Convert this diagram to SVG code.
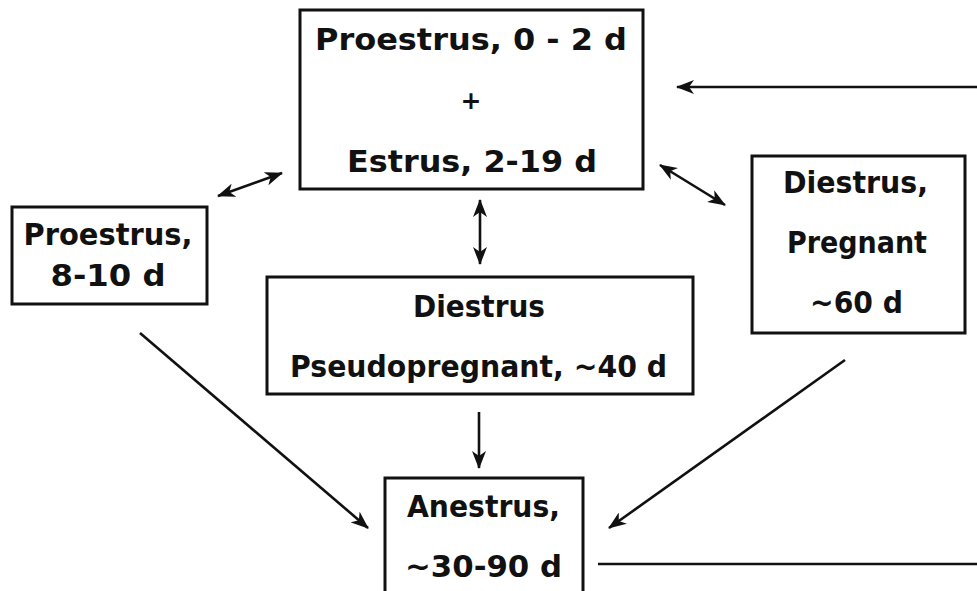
<svg xmlns="http://www.w3.org/2000/svg" width="977" height="591" viewBox="0 0 977 591">
<style>
.box{fill:#fff;stroke:#111;stroke-width:3}
.t{font-family:"DejaVu Sans","Liberation Sans",sans-serif;font-weight:bold;font-size:30px;fill:#111;text-anchor:middle}
.c{stroke:#111;stroke-width:2.6;fill:none}
.a{marker-end:url(#ah)}
.d{marker-end:url(#ah);marker-start:url(#ah)}
</style>
<defs>
<marker id="ah" markerUnits="userSpaceOnUse" viewBox="0 0 18 14" refX="17" refY="7" markerWidth="18" markerHeight="14" orient="auto-start-reverse">
<path d="M0,0 L18,7 L0,14 L5,7 Z" fill="#111"/>
</marker>
</defs>
<rect width="977" height="591" fill="#fff"/>
<g id="connectors">
<line class="c a" x1="977" y1="87" x2="677" y2="87"/>
<line class="c d" x1="218" y1="196" x2="282" y2="173"/>
<line class="c d" x1="480" y1="200" x2="480" y2="264"/>
<line class="c d" x1="660" y1="165" x2="725" y2="205"/>
<line class="c a" x1="140" y1="333" x2="368" y2="528"/>
<line class="c a" x1="479" y1="412" x2="479" y2="468"/>
<line class="c a" x1="845" y1="360" x2="609" y2="528"/>
<line class="c" x1="598" y1="564" x2="977" y2="564"/>
</g>
<g id="node-proestrus-estrus">
<rect class="box" x="300" y="10" width="343" height="179"/>
<text class="t" x="471" y="50" textLength="312" lengthAdjust="spacingAndGlyphs">Proestrus, 0 - 2 d</text>
<text class="t" x="471" y="109" style="font-size:25px">+</text>
<text class="t" x="472" y="172" textLength="250" lengthAdjust="spacingAndGlyphs">Estrus, 2-19 d</text>
</g>
<g id="node-proestrus">
<rect class="box" x="12" y="207" width="195" height="97"/>
<text class="t" x="108" y="245" textLength="169" lengthAdjust="spacingAndGlyphs">Proestrus,</text>
<text class="t" x="108" y="286" textLength="115" lengthAdjust="spacingAndGlyphs">8-10 d</text>
</g>
<g id="node-diestrus-pseudo">
<rect class="box" x="267" y="277" width="426" height="117"/>
<text class="t" x="479" y="317" textLength="132" lengthAdjust="spacingAndGlyphs">Diestrus</text>
<text class="t" x="478.5" y="377" textLength="377" lengthAdjust="spacingAndGlyphs">Pseudopregnant, ~40 d</text>
</g>
<g id="node-diestrus-pregnant">
<rect class="box" x="752" y="156" width="213" height="177"/>
<text class="t" x="855.5" y="193" textLength="145" lengthAdjust="spacingAndGlyphs">Diestrus,</text>
<text class="t" x="857" y="253" textLength="140" lengthAdjust="spacingAndGlyphs">Pregnant</text>
<text class="t" x="856.5" y="313" textLength="93" lengthAdjust="spacingAndGlyphs">~60 d</text>
</g>
<g id="node-anestrus">
<rect class="box" x="385" y="478" width="198" height="130"/>
<text class="t" x="483.5" y="517" textLength="153" lengthAdjust="spacingAndGlyphs">Anestrus,</text>
<text class="t" x="483.5" y="577" textLength="157" lengthAdjust="spacingAndGlyphs">~30-90 d</text>
</g>
</svg>
